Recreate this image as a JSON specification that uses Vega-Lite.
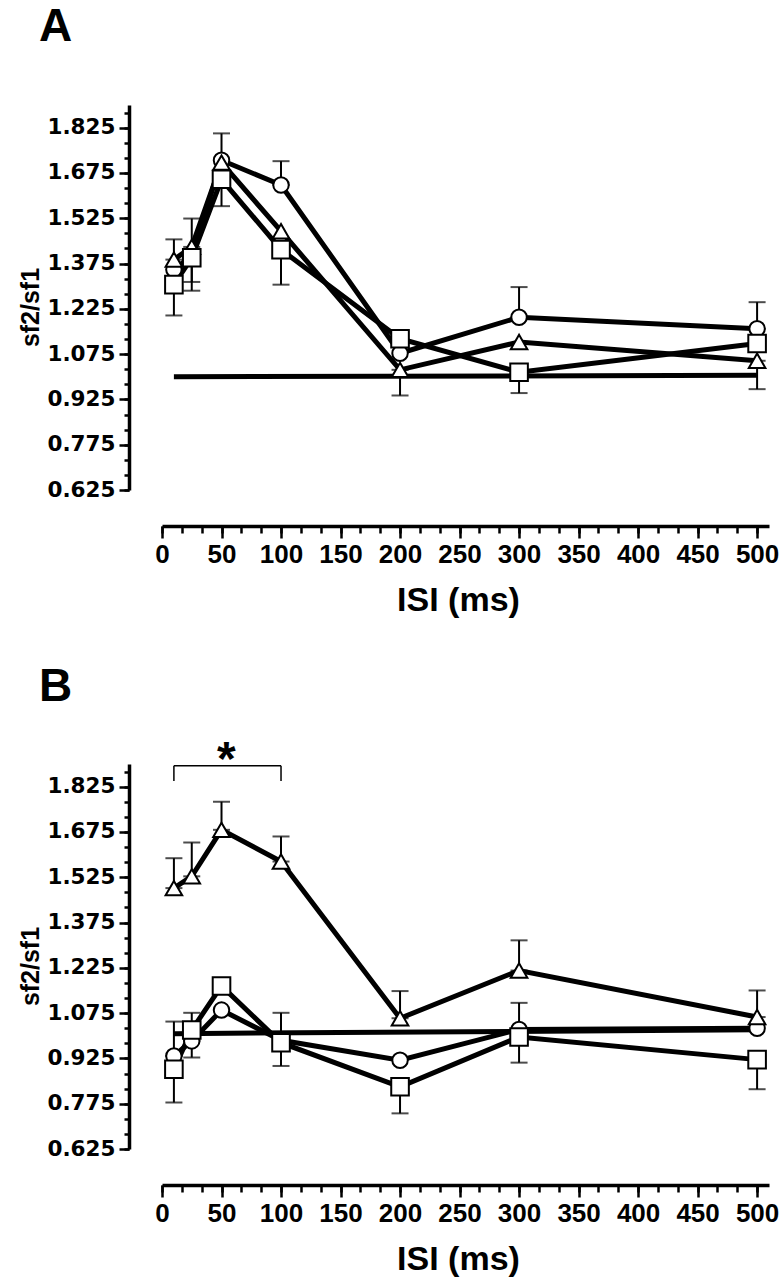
{
 "$schema": "https://vega.github.io/schema/vega-lite/v6.json",
 "padding": {"left": 18, "top": 4, "right": 5, "bottom": 5},
 "config": {"view": {"stroke": null}, "axis": {"grid": false, "domainColor": "black", "tickColor": "black", "labelColor": "black", "titleColor": "black"}},
 "spacing": 46,
 "datasets": {
  "pts": [
   {"panel": "A", "s": "circle", "x": 10, "y": 1.355},
   {"panel": "A", "s": "circle", "x": 25, "y": 1.40},
   {"panel": "A", "s": "circle", "x": 50, "y": 1.717},
   {"panel": "A", "s": "circle", "x": 100, "y": 1.635},
   {"panel": "A", "s": "circle", "x": 200, "y": 1.078},
   {"panel": "A", "s": "circle", "x": 300, "y": 1.197},
   {"panel": "A", "s": "circle", "x": 500, "y": 1.159},
   {"panel": "A", "s": "triangle", "x": 10, "y": 1.388},
   {"panel": "A", "s": "triangle", "x": 25, "y": 1.430},
   {"panel": "A", "s": "triangle", "x": 50, "y": 1.709},
   {"panel": "A", "s": "triangle", "x": 100, "y": 1.482},
   {"panel": "A", "s": "triangle", "x": 200, "y": 1.023},
   {"panel": "A", "s": "triangle", "x": 300, "y": 1.115},
   {"panel": "A", "s": "triangle", "x": 500, "y": 1.053},
   {"panel": "A", "s": "square", "x": 10, "y": 1.305},
   {"panel": "A", "s": "square", "x": 25, "y": 1.394},
   {"panel": "A", "s": "square", "x": 50, "y": 1.654},
   {"panel": "A", "s": "square", "x": 100, "y": 1.421},
   {"panel": "A", "s": "square", "x": 200, "y": 1.126},
   {"panel": "A", "s": "square", "x": 300, "y": 1.015},
   {"panel": "A", "s": "square", "x": 500, "y": 1.110},
   {"panel": "B", "s": "circle", "x": 10, "y": 0.933},
   {"panel": "B", "s": "circle", "x": 25, "y": 0.983},
   {"panel": "B", "s": "circle", "x": 50, "y": 1.085},
   {"panel": "B", "s": "circle", "x": 100, "y": 0.985},
   {"panel": "B", "s": "circle", "x": 200, "y": 0.919},
   {"panel": "B", "s": "circle", "x": 300, "y": 1.021},
   {"panel": "B", "s": "circle", "x": 500, "y": 1.025},
   {"panel": "B", "s": "triangle", "x": 10, "y": 1.489},
   {"panel": "B", "s": "triangle", "x": 25, "y": 1.528},
   {"panel": "B", "s": "triangle", "x": 50, "y": 1.682},
   {"panel": "B", "s": "triangle", "x": 100, "y": 1.577},
   {"panel": "B", "s": "triangle", "x": 200, "y": 1.058},
   {"panel": "B", "s": "triangle", "x": 300, "y": 1.216},
   {"panel": "B", "s": "triangle", "x": 500, "y": 1.062},
   {"panel": "B", "s": "square", "x": 10, "y": 0.889},
   {"panel": "B", "s": "square", "x": 25, "y": 1.019},
   {"panel": "B", "s": "square", "x": 50, "y": 1.165},
   {"panel": "B", "s": "square", "x": 100, "y": 0.977},
   {"panel": "B", "s": "square", "x": 200, "y": 0.831},
   {"panel": "B", "s": "square", "x": 300, "y": 0.996},
   {"panel": "B", "s": "square", "x": 500, "y": 0.921}
  ],
  "ctrl": [
   {"panel": "A", "x": 10, "y": 1.0},
   {"panel": "A", "x": 500, "y": 1.005},
   {"panel": "B", "x": 10, "y": 1.007},
   {"panel": "B", "x": 500, "y": 1.02}
  ],
  "err": [
   {"panel": "A", "s": "circle", "x": 25, "lo": 1.314, "hi": 1.40},
   {"panel": "A", "s": "circle", "x": 50, "lo": 1.717, "hi": 1.806},
   {"panel": "A", "s": "circle", "x": 100, "lo": 1.635, "hi": 1.714},
   {"panel": "A", "s": "circle", "x": 300, "lo": 1.197, "hi": 1.297},
   {"panel": "A", "s": "circle", "x": 500, "lo": 1.159, "hi": 1.247},
   {"panel": "A", "s": "triangle", "x": 10, "lo": 1.388, "hi": 1.455},
   {"panel": "A", "s": "triangle", "x": 25, "lo": 1.430, "hi": 1.524},
   {"panel": "A", "s": "triangle", "x": 200, "lo": 0.938, "hi": 1.023},
   {"panel": "A", "s": "triangle", "x": 500, "lo": 0.959, "hi": 1.053},
   {"panel": "A", "s": "square", "x": 10, "lo": 1.203, "hi": 1.305},
   {"panel": "A", "s": "square", "x": 25, "lo": 1.285, "hi": 1.394},
   {"panel": "A", "s": "square", "x": 50, "lo": 1.565, "hi": 1.654},
   {"panel": "A", "s": "square", "x": 100, "lo": 1.305, "hi": 1.421},
   {"panel": "A", "s": "square", "x": 300, "lo": 0.946, "hi": 1.015},
   {"panel": "B", "s": "triangle", "x": 10, "lo": 1.489, "hi": 1.588},
   {"panel": "B", "s": "triangle", "x": 25, "lo": 1.528, "hi": 1.640},
   {"panel": "B", "s": "triangle", "x": 50, "lo": 1.682, "hi": 1.775},
   {"panel": "B", "s": "triangle", "x": 100, "lo": 1.577, "hi": 1.660},
   {"panel": "B", "s": "triangle", "x": 200, "lo": 1.058, "hi": 1.148},
   {"panel": "B", "s": "triangle", "x": 300, "lo": 1.216, "hi": 1.316},
   {"panel": "B", "s": "triangle", "x": 500, "lo": 1.062, "hi": 1.150},
   {"panel": "B", "s": "circle", "x": 10, "lo": 0.933, "hi": 1.047},
   {"panel": "B", "s": "circle", "x": 25, "lo": 0.928, "hi": 0.983},
   {"panel": "B", "s": "square", "x": 10, "lo": 0.779, "hi": 0.889},
   {"panel": "B", "s": "square", "x": 25, "lo": 1.019, "hi": 1.076},
   {"panel": "B", "s": "square", "x": 100, "lo": 0.900, "hi": 1.076},
   {"panel": "B", "s": "square", "x": 200, "lo": 0.743, "hi": 0.831},
   {"panel": "B", "s": "square", "x": 300, "lo": 0.911, "hi": 1.109},
   {"panel": "B", "s": "square", "x": 500, "lo": 0.823, "hi": 0.921}
  ],
  "brk": [
   {"x": 10, "x2": 100, "y": 1.894, "y2": 1.894},
   {"x": 10, "x2": 10, "y": 1.844, "y2": 1.894},
   {"x": 100, "x2": 100, "y": 1.844, "y2": 1.894}
  ],
  "star": [
   {"x": 54, "y": 1.865, "label": "*"}
  ]
 },
 "vconcat": [
  {
   "title": {"text": "A", "anchor": "start", "frame": "bounds", "font": "Liberation Sans", "fontSize": 46, "fontWeight": "bold", "color": "black", "offset": 54, "dx": 20},
   "width": 607, "height": 385,
   "resolve": {"axis": {"x": "independent", "y": "independent"}},
   "layer": [
    {
     "data": {"name": "ctrl"},
     "transform": [{"filter": "datum.panel == 'A'"}],
     "mark": {"type": "line", "color": "black", "strokeWidth": 5},
     "encoding": {
      "x": {"field": "x", "type": "quantitative", "scale": {"domain": [0, 510], "nice": false, "zero": false},
       "axis": {"values": [0, 50, 100, 150, 200, 250, 300, 350, 400, 450, 500], "orient": "bottom", "offset": 36, "tickSize": 12, "tickWidth": 2.5, "domainWidth": 3.5, "labelFont": "Liberation Sans", "labelFontSize": 26, "labelFontWeight": "bold", "labelPadding": 3, "labelFlush": false, "labelOverlap": false, "title": "ISI (ms)", "titleFont": "Liberation Sans", "titleFontSize": 34, "titleFontWeight": "bold", "titlePadding": 16, "titleX": 296}},
      "y": {"field": "y", "type": "quantitative", "scale": {"domain": [0.625, 1.9], "nice": false, "zero": false},
       "axis": {"values": [0.625, 0.775, 0.925, 1.075, 1.225, 1.375, 1.525, 1.675, 1.825], "format": ".3f", "orient": "left", "offset": 33, "tickSize": 10, "tickWidth": 2.5, "domainWidth": 3.5, "labelFont": "DejaVu Sans", "labelFontSize": 21.5, "labelFontWeight": "bold", "labelPadding": 4, "labelFlush": false, "labelOverlap": false, "title": "sf2/sf1", "titleFont": "Liberation Sans", "titleFontSize": 25, "titleFontWeight": "bold", "titlePadding": 3, "titleY": 202}}
     }
    },
    {
     "data": {"name": "pts"},
     "transform": [{"filter": "datum.panel == 'A'"}],
     "mark": {"type": "line", "color": "black", "strokeWidth": 5},
     "encoding": {
      "x": {"field": "x", "type": "quantitative", "scale": {"domain": [0, 510], "nice": false, "zero": false},
       "axis": {"values": [0, 16.667, 33.333, 50, 66.667, 83.333, 100, 116.667, 133.333, 150, 166.667, 183.333, 200, 216.667, 233.333, 250, 266.667, 283.333, 300, 316.667, 333.333, 350, 366.667, 383.333, 400, 416.667, 433.333, 450, 466.667, 483.333, 500], "orient": "bottom", "offset": 36, "tickSize": 7, "tickWidth": 2.5, "domain": false, "labels": false, "title": null}},
      "y": {"field": "y", "type": "quantitative", "scale": {"domain": [0.625, 1.9], "nice": false, "zero": false},
       "axis": {"values": [0.625, 0.675, 0.725, 0.775, 0.825, 0.875, 0.925, 0.975, 1.025, 1.075, 1.125, 1.175, 1.225, 1.275, 1.325, 1.375, 1.425, 1.475, 1.525, 1.575, 1.625, 1.675, 1.725, 1.775, 1.825, 1.875], "orient": "left", "offset": 33, "tickSize": 5, "tickWidth": 2.5, "domain": false, "labels": false, "title": null}},
      "detail": {"field": "s"}
     }
    },
    {
     "data": {"name": "err"},
     "transform": [{"filter": "datum.panel == 'A'"}],
     "mark": {"type": "rule", "color": "black", "strokeWidth": 2},
     "encoding": {
      "x": {"field": "x", "type": "quantitative", "scale": {"domain": [0, 510], "nice": false, "zero": false}, "axis": null},
      "y": {"field": "lo", "type": "quantitative", "scale": {"domain": [0.625, 1.9], "nice": false, "zero": false}, "axis": null},
      "y2": {"field": "hi"}
     }
    },
    {
     "data": {"name": "err"},
     "transform": [{"filter": "datum.panel == 'A'"}],
     "mark": {"type": "tick", "orient": "horizontal", "color": "black", "size": 17, "thickness": 2},
     "encoding": {
      "x": {"field": "x", "type": "quantitative", "scale": {"domain": [0, 510], "nice": false, "zero": false}, "axis": null},
      "y": {"field": "lo", "type": "quantitative", "scale": {"domain": [0.625, 1.9], "nice": false, "zero": false}, "axis": null}
     }
    },
    {
     "data": {"name": "err"},
     "transform": [{"filter": "datum.panel == 'A'"}],
     "mark": {"type": "tick", "orient": "horizontal", "color": "black", "size": 17, "thickness": 2},
     "encoding": {
      "x": {"field": "x", "type": "quantitative", "scale": {"domain": [0, 510], "nice": false, "zero": false}, "axis": null},
      "y": {"field": "hi", "type": "quantitative", "scale": {"domain": [0.625, 1.9], "nice": false, "zero": false}, "axis": null}
     }
    },
    {
     "data": {"name": "pts"},
     "transform": [{"filter": "datum.panel == 'A'"}],
     "mark": {"type": "point", "filled": true, "fill": "white", "stroke": "black", "strokeWidth": 2, "opacity": 1},
     "encoding": {
      "x": {"field": "x", "type": "quantitative", "scale": {"domain": [0, 510], "nice": false, "zero": false}, "axis": null},
      "y": {"field": "y", "type": "quantitative", "scale": {"domain": [0.625, 1.9], "nice": false, "zero": false}, "axis": null},
      "shape": {"field": "s", "type": "nominal", "scale": {"domain": ["circle", "triangle", "square"], "range": ["circle", "triangle-up", "square"]}, "legend": null},
      "size": {"field": "s", "type": "nominal", "scale": {"domain": ["circle", "triangle", "square"], "range": [240, 310, 260]}, "legend": null}
     }
    }
   ]
  },
  {
   "title": {"text": "B", "anchor": "start", "frame": "bounds", "font": "Liberation Sans", "fontSize": 46, "fontWeight": "bold", "color": "black", "offset": 26, "dx": 20},
   "width": 607, "height": 385,
   "resolve": {"axis": {"x": "independent", "y": "independent"}},
   "layer": [
    {
     "data": {"name": "ctrl"},
     "transform": [{"filter": "datum.panel == 'B'"}],
     "mark": {"type": "line", "color": "black", "strokeWidth": 5},
     "encoding": {
      "x": {"field": "x", "type": "quantitative", "scale": {"domain": [0, 510], "nice": false, "zero": false},
       "axis": {"values": [0, 50, 100, 150, 200, 250, 300, 350, 400, 450, 500], "orient": "bottom", "offset": 36, "tickSize": 12, "tickWidth": 2.5, "domainWidth": 3.5, "labelFont": "Liberation Sans", "labelFontSize": 26, "labelFontWeight": "bold", "labelPadding": 3, "labelFlush": false, "labelOverlap": false, "title": "ISI (ms)", "titleFont": "Liberation Sans", "titleFontSize": 34, "titleFontWeight": "bold", "titlePadding": 16, "titleX": 296}},
      "y": {"field": "y", "type": "quantitative", "scale": {"domain": [0.625, 1.9], "nice": false, "zero": false},
       "axis": {"values": [0.625, 0.775, 0.925, 1.075, 1.225, 1.375, 1.525, 1.675, 1.825], "format": ".3f", "orient": "left", "offset": 33, "tickSize": 10, "tickWidth": 2.5, "domainWidth": 3.5, "labelFont": "DejaVu Sans", "labelFontSize": 21.5, "labelFontWeight": "bold", "labelPadding": 4, "labelFlush": false, "labelOverlap": false, "title": "sf2/sf1", "titleFont": "Liberation Sans", "titleFontSize": 25, "titleFontWeight": "bold", "titlePadding": 3, "titleY": 202}}
     }
    },
    {
     "data": {"name": "pts"},
     "transform": [{"filter": "datum.panel == 'B'"}],
     "mark": {"type": "line", "color": "black", "strokeWidth": 5},
     "encoding": {
      "x": {"field": "x", "type": "quantitative", "scale": {"domain": [0, 510], "nice": false, "zero": false},
       "axis": {"values": [0, 16.667, 33.333, 50, 66.667, 83.333, 100, 116.667, 133.333, 150, 166.667, 183.333, 200, 216.667, 233.333, 250, 266.667, 283.333, 300, 316.667, 333.333, 350, 366.667, 383.333, 400, 416.667, 433.333, 450, 466.667, 483.333, 500], "orient": "bottom", "offset": 36, "tickSize": 7, "tickWidth": 2.5, "domain": false, "labels": false, "title": null}},
      "y": {"field": "y", "type": "quantitative", "scale": {"domain": [0.625, 1.9], "nice": false, "zero": false},
       "axis": {"values": [0.625, 0.675, 0.725, 0.775, 0.825, 0.875, 0.925, 0.975, 1.025, 1.075, 1.125, 1.175, 1.225, 1.275, 1.325, 1.375, 1.425, 1.475, 1.525, 1.575, 1.625, 1.675, 1.725, 1.775, 1.825, 1.875], "orient": "left", "offset": 33, "tickSize": 5, "tickWidth": 2.5, "domain": false, "labels": false, "title": null}},
      "detail": {"field": "s"}
     }
    },
    {
     "data": {"name": "err"},
     "transform": [{"filter": "datum.panel == 'B'"}],
     "mark": {"type": "rule", "color": "black", "strokeWidth": 2},
     "encoding": {
      "x": {"field": "x", "type": "quantitative", "scale": {"domain": [0, 510], "nice": false, "zero": false}, "axis": null},
      "y": {"field": "lo", "type": "quantitative", "scale": {"domain": [0.625, 1.9], "nice": false, "zero": false}, "axis": null},
      "y2": {"field": "hi"}
     }
    },
    {
     "data": {"name": "err"},
     "transform": [{"filter": "datum.panel == 'B'"}],
     "mark": {"type": "tick", "orient": "horizontal", "color": "black", "size": 17, "thickness": 2},
     "encoding": {
      "x": {"field": "x", "type": "quantitative", "scale": {"domain": [0, 510], "nice": false, "zero": false}, "axis": null},
      "y": {"field": "lo", "type": "quantitative", "scale": {"domain": [0.625, 1.9], "nice": false, "zero": false}, "axis": null}
     }
    },
    {
     "data": {"name": "err"},
     "transform": [{"filter": "datum.panel == 'B'"}],
     "mark": {"type": "tick", "orient": "horizontal", "color": "black", "size": 17, "thickness": 2},
     "encoding": {
      "x": {"field": "x", "type": "quantitative", "scale": {"domain": [0, 510], "nice": false, "zero": false}, "axis": null},
      "y": {"field": "hi", "type": "quantitative", "scale": {"domain": [0.625, 1.9], "nice": false, "zero": false}, "axis": null}
     }
    },
    {
     "data": {"name": "pts"},
     "transform": [{"filter": "datum.panel == 'B'"}],
     "mark": {"type": "point", "filled": true, "fill": "white", "stroke": "black", "strokeWidth": 2, "opacity": 1},
     "encoding": {
      "x": {"field": "x", "type": "quantitative", "scale": {"domain": [0, 510], "nice": false, "zero": false}, "axis": null},
      "y": {"field": "y", "type": "quantitative", "scale": {"domain": [0.625, 1.9], "nice": false, "zero": false}, "axis": null},
      "shape": {"field": "s", "type": "nominal", "scale": {"domain": ["circle", "triangle", "square"], "range": ["circle", "triangle-up", "square"]}, "legend": null},
      "size": {"field": "s", "type": "nominal", "scale": {"domain": ["circle", "triangle", "square"], "range": [240, 310, 260]}, "legend": null}
     }
    },
    {
     "data": {"name": "brk"},
     "mark": {"type": "rule", "color": "black", "strokeWidth": 1.5},
     "encoding": {
      "x": {"field": "x", "type": "quantitative", "scale": {"domain": [0, 510], "nice": false, "zero": false}, "axis": null},
      "x2": {"field": "x2"},
      "y": {"field": "y", "type": "quantitative", "scale": {"domain": [0.625, 1.9], "nice": false, "zero": false}, "axis": null},
      "y2": {"field": "y2"}
     }
    },
    {
     "data": {"name": "star"},
     "mark": {"type": "text", "color": "black", "font": "Liberation Sans", "fontSize": 48, "fontWeight": "bold", "baseline": "alphabetic", "align": "center"},
     "encoding": {
      "x": {"field": "x", "type": "quantitative", "scale": {"domain": [0, 510], "nice": false, "zero": false}, "axis": null},
      "y": {"field": "y", "type": "quantitative", "scale": {"domain": [0.625, 1.9], "nice": false, "zero": false}, "axis": null},
      "text": {"field": "label"}
     }
    }
   ]
  }
 ]
}
